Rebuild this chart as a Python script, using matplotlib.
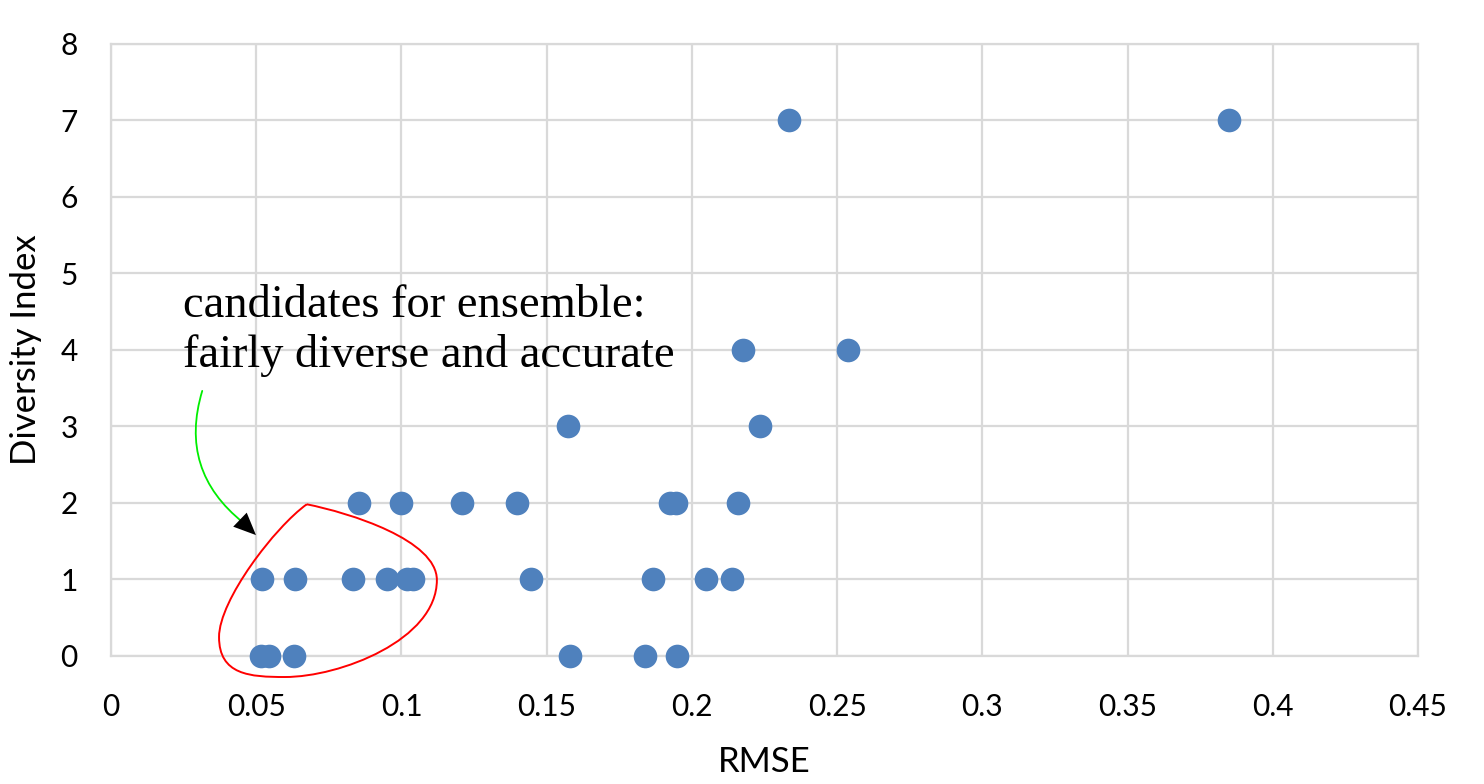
import matplotlib
matplotlib.use("Agg")
import matplotlib.pyplot as plt
from matplotlib.path import Path
from matplotlib.patches import PathPatch, FancyArrowPatch

# RMSE vs diversity index of the candidate models
rmse = [0.0516, 0.0544, 0.0630, 0.1580, 0.1840, 0.1950,
        0.0520, 0.0633, 0.0832, 0.0949, 0.1018, 0.1040, 0.1446, 0.1866, 0.2047, 0.2137,
        0.0854, 0.0998, 0.1208, 0.1398, 0.1924, 0.1947, 0.2158,
        0.1573, 0.2234,
        0.2176, 0.2537,
        0.2334, 0.3849]
diversity = [0, 0, 0, 0, 0, 0,
             1, 1, 1, 1, 1, 1, 1, 1, 1, 1,
             2, 2, 2, 2, 2, 2, 2,
             3, 3,
             4, 4,
             7, 7]

x_ticks = [0, 0.05, 0.1, 0.15, 0.2, 0.25, 0.3, 0.35, 0.4, 0.45]
x_tick_labels = ['0', '0.05', '0.1', '0.15', '0.2', '0.25', '0.3', '0.35', '0.4', '0.45']
y_ticks = [0, 1, 2, 3, 4, 5, 6, 7, 8]

# outline of the "candidates" loop (data units)
loop_pts = [(0.0674, 1.983),
            (0.0565, 1.686), (0.0372, 0.732), (0.0372, 0.248),
            (0.0372, -0.248), (0.0478, -0.275), (0.0599, -0.275),
            (0.0788, -0.275), (0.1122, 0.209), (0.1122, 0.993),
            (0.1122, 1.516), (0.0823, 1.869), (0.0674, 1.983)]

note = "candidates for ensemble:\nfairly diverse and accurate"

plt.rcParams['font.family'] = ['Lato', 'DejaVu Sans']

fig = plt.figure(figsize=(14.84, 7.84), dpi=100)
ax = fig.add_axes([0.0748, 0.1633, 0.8807, 0.7806])

ax.scatter(rmse, diversity, s=290, color='#4f81bd', zorder=3, clip_on=False, linewidths=0)

ax.set_xlim(0, 0.45)
ax.set_ylim(0, 8)
ax.set_xticks(x_ticks)
ax.set_xticklabels(x_tick_labels)
ax.set_yticks(y_ticks)
ax.grid(True, color='#d9d9d9', linewidth=1.6)
ax.set_axisbelow(True)
for s in ax.spines.values():
    s.set_color('#d9d9d9')
    s.set_linewidth(1.6)
ax.tick_params(axis='both', length=0, labelsize=21.5)
ax.tick_params(axis='x', pad=27)
ax.tick_params(axis='y', pad=24)
ax.set_xlabel('RMSE', fontsize=25, labelpad=18)
ax.set_ylabel('Diversity Index', fontsize=25, labelpad=13)

# red loop round the candidate points
codes = [Path.MOVETO] + [Path.CURVE4] * 12
loop = PathPatch(Path(loop_pts, codes), facecolor='none', edgecolor='red',
                 linewidth=1.4, clip_on=False, zorder=4)
ax.add_patch(loop)

ax.text(0.0249, 3.78, note, fontsize=33.5, family='Liberation Serif',
        va='baseline', ha='left', linespacing=1.2)

# green curved arrow with black head
curve = FancyArrowPatch((0.0317, 3.50), (0.0463, 1.72),
                        connectionstyle='arc3,rad=0.35', arrowstyle='-',
                        color='#00ee00', linewidth=1.3, zorder=4)
ax.add_patch(curve)
head = FancyArrowPatch((0.0450, 1.76), (0.0506, 1.555),
                       arrowstyle='-|>,head_length=16,head_width=7',
                       color='black', linewidth=0, zorder=5)
ax.add_patch(head)

fig.savefig('out.png', dpi=100)
